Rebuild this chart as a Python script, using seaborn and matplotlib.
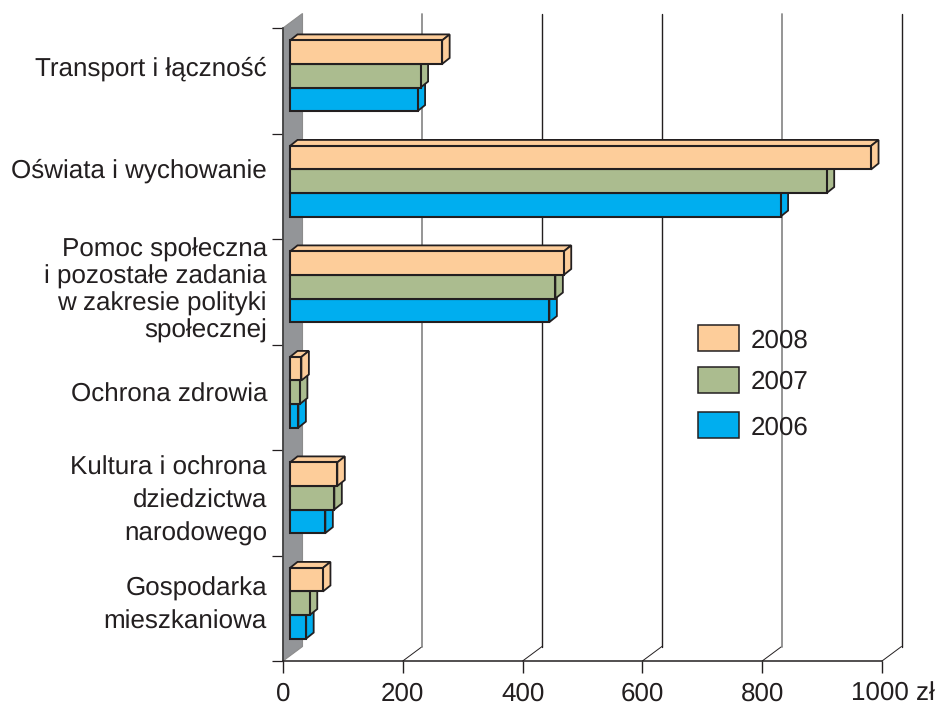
import matplotlib
matplotlib.use("Agg")
import matplotlib.pyplot as plt
from matplotlib.patches import Polygon, Rectangle
from matplotlib.transforms import ScaledTranslation
import pandas as pd
import seaborn as sns

categories = ["Transport i łączność", "Oświata i wychowanie",
              "Pomoc społeczna\ni pozostałe zadania\nw zakresie polityki\nspołecznej",
              "Ochrona zdrowia", "Kultura i ochrona\ndziedzictwa\nnarodowego",
              "Gospodarka\nmieszkaniowa"]
years = ["2008", "2007", "2006"]
values_2008 = [254, 970, 457, 19, 79, 55]
values_2007 = [218, 896, 443, 16.5, 74, 33]
values_2006 = [213, 819, 433, 14, 59, 27]
x_ticks = [0, 200, 400, 600, 800, 1000]
x_labels = ["0", "200", "400", "600", "800", "1000 zł"]

INK = "#231f20"
GREY = "#8c8c8c"
colors = {"2008": "#fdcd9a", "2007": "#abbc8f", "2006": "#00aeef"}
W, H = 945, 704
PX_X = 1000 / 599      # data units of x per pixel
PX_Y = 6 / 633         # data units of y per pixel

sns.set_theme(style="white")
plt.rcParams["font.family"] = ["Liberation Sans", "DejaVu Sans"]
plt.rcParams["text.color"] = INK
plt.rcParams["text.hinting"] = "no_hinting"
plt.rcParams["text.hinting_factor"] = 1

fig = plt.figure(figsize=(W / 100, H / 100), dpi=100)
ax = fig.add_axes([283 / W, (H - 661) / H, 599 / W, 633 / H])

df = pd.DataFrame({
    "category": categories * 3,
    "year": [y for y in years for _ in categories],
    "value": values_2008 + values_2007 + values_2006,
})
sns.barplot(data=df, y="category", x="value", hue="year", order=categories,
            hue_order=years, palette=colors, width=0.67, gap=0, saturation=1,
            edgecolor=INK, linewidth=1.5, legend=False, ax=ax)
ax.set_xlim(0, 1000)
ax.set_ylim(5.5, -0.5)
ax.set_xlabel("")
ax.set_ylabel("")

# side wall and back grid of the pseudo 3D box
wall_dx, wall_dy = 19.5 * PX_X, 14.5 * PX_Y
ax.add_patch(Polygon([(0, -0.5), (0, 5.5), (wall_dx, 5.5 - wall_dy), (wall_dx, -0.5 - wall_dy)],
                     closed=True, facecolor="#939598", edgecolor=GREY, linewidth=0.8,
                     clip_on=False, zorder=1))
grid_colors = {0: GREY, 200: GREY, 400: INK, 600: INK, 800: GREY, 1000: INK}
for v in x_ticks[1:]:
    ax.plot([v, v + wall_dx], [5.5, 5.5 - wall_dy], color=INK, lw=0.7, clip_on=False, zorder=1)
    ax.plot([v + wall_dx, v + wall_dx], [5.5 - wall_dy, -0.5 - wall_dy], color=grid_colors[v],
            lw=1.0 if grid_colors[v] == INK else 1.3, clip_on=False, zorder=1)

# bars: shift the front faces into the box, then add top and side faces
shift_x, shift_y = 7 * PX_X, 5 * PX_Y
depth_x, depth_y = 7.5 * PX_X, 6 * PX_Y
for container, year in zip(ax.containers, years):
    for p in container:
        p.set_x(shift_x)
        p.set_y(p.get_y() - shift_y)
        x0, x1 = p.get_x(), p.get_x() + p.get_width()
        y0, y1 = p.get_y(), p.get_y() + p.get_height()
        z = 12 - p.get_y()
        p.set_zorder(z)
        p.set_clip_on(False)
        p.set_joinstyle("miter")
        top = Polygon([(x0, y0), (x0 + depth_x, y0 - depth_y), (x1 + depth_x, y0 - depth_y), (x1, y0)])
        side = Polygon([(x1, y0), (x1 + depth_x, y0 - depth_y), (x1 + depth_x, y1 - depth_y), (x1, y1)])
        for face in (top, side):
            face.set(facecolor=colors[year], edgecolor=INK, linewidth=1.3,
                     clip_on=False, zorder=z - 0.01, joinstyle="miter")
            ax.add_patch(face)

# axes
for name in ("top", "right"):
    ax.spines[name].set_visible(False)
ax.spines["bottom"].set(color=INK, linewidth=1.1, zorder=3)
ax.spines["left"].set(color="#3a3a3a", linewidth=1.2, zorder=3)
ax.set_yticks([i - 0.5 for i in range(7)])
ax.set_yticklabels([])
ax.tick_params(axis="y", left=True, length=8, width=0.9, color=INK)
ax.set_xticks(x_ticks)
ax.set_xticklabels(x_labels, fontsize=18.5, color=INK)
ax.tick_params(axis="x", bottom=True, length=8.6, width=1.0, color=INK, pad=6.5)
for tick, v in zip(ax.xaxis.get_major_ticks(), x_ticks):
    if v in (0, 1000):
        tick.tick1line.set_color(GREY)
ax.get_xticklabels()[-1].set_transform(
    ax.get_xticklabels()[-1].get_transform() + ScaledTranslation(10.5 / 100, 0, fig.dpi_scale_trans))

# category labels, placed by hand as in the original
label_lift = [12.5, 16, 1, 2, 1.5, 2.5]
line_gap = [1.0, 1.0, 1.15, 1.0, 1.46, 1.46]
for i, (label, lift, gap) in enumerate(zip(categories, label_lift, line_gap)):
    ax.annotate(label, xy=(0, i), xycoords=("axes fraction", "data"),
                xytext=(-16, lift), textcoords="offset pixels", ha="right", va="center",
                ma="right", fontsize=18.7, color=INK, linespacing=gap, annotation_clip=False)

# legend
legend_tops = [324.5, 366.7, 412]
legend_text_drop = [17, 15.5, 16]
for year, top, drop in zip(years, legend_tops, legend_text_drop):
    fig.add_artist(Rectangle((698.5 / W, (H - top - 26) / H), 40.5 / W, 26 / H,
                             transform=fig.transFigure, facecolor=colors[year],
                             edgecolor=INK, linewidth=1.1))
    fig.text(750.5 / W, (H - top - drop) / H, year, fontsize=18.5, color=INK, va="center", ha="left")

fig.savefig("out.png", dpi=100)
